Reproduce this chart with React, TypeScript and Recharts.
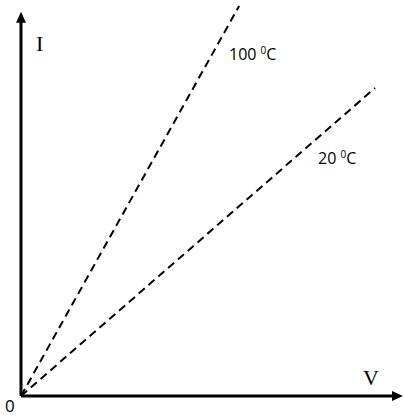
import { LineChart, Line, XAxis, YAxis, ReferenceLine, ReferenceDot } from "recharts";

// V runs 0..10 along the bottom, I runs 0..10 up the left side
const hot = [
  { v: 0, i: 0 },
  { v: 5.71, i: 10 },
];
const cold = [
  { v: 0, i: 0 },
  { v: 9.27, i: 7.9 },
];
const AXIS_END_V = 10;
const AXIS_END_I = 9.85;

const ArrowRight = (props: any) => (
  <path d={`M${props.cx},${props.cy} l-11,-5 l0,10 z`} fill="#000" />
);
const ArrowUp = (props: any) => (
  <path d={`M${props.cx},${props.cy} l-5,11 l10,0 z`} fill="#000" />
);

const sans = "Open Sans, Noto Sans, sans-serif";
const serif = "Liberation Serif, DejaVu Serif, serif";

export default function App() {
  return (
    <div style={{ position: "absolute", left: 0, top: 0, width: 404, height: 418, background: "#fff" }}>
      <LineChart width={404} height={418} margin={{ top: 6, right: 1, bottom: 22, left: 21 }}>
        <XAxis dataKey="v" type="number" domain={[0, 10]} hide />
        <YAxis dataKey="i" type="number" domain={[0, 10]} hide />
        <ReferenceLine segment={[{ x: 0, y: 0 }, { x: AXIS_END_V - 0.2, y: 0 }]} stroke="#000" strokeWidth={3} />
        <ReferenceLine segment={[{ x: 0, y: 0 }, { x: 0, y: AXIS_END_I - 0.2 }]} stroke="#000" strokeWidth={3} />
        <ReferenceDot x={AXIS_END_V} y={0} r={0} shape={ArrowRight} />
        <ReferenceDot x={0} y={AXIS_END_I} r={0} shape={ArrowUp} />
        <Line data={hot} dataKey="i" stroke="#000" strokeWidth={2} strokeDasharray="8 5" dot={false} isAnimationActive={false} />
        <Line data={cold} dataKey="i" stroke="#000" strokeWidth={2} strokeDasharray="8 5" dot={false} isAnimationActive={false} />
      </LineChart>
      <svg width={404} height={418} style={{ position: "absolute", left: 0, top: 0, pointerEvents: "none" }}>
        <text x={36} y={51} fontFamily={serif} fontSize={22}>I</text>
        <text x={363} y={385} fontFamily={serif} fontSize={22}>V</text>
        <text x={5} y={412} fontFamily={sans} fontSize={17}>0</text>
        <text x={229} y={60} fontFamily={sans} fontSize={16}>
          100 <tspan fontSize={10} dy={-6}>0</tspan><tspan dy={6}>C</tspan>
        </text>
        <text x={318} y={164} fontFamily={sans} fontSize={16}>
          20 <tspan fontSize={10} dy={-6}>0</tspan><tspan dy={6}>C</tspan>
        </text>
      </svg>
    </div>
  );
}
